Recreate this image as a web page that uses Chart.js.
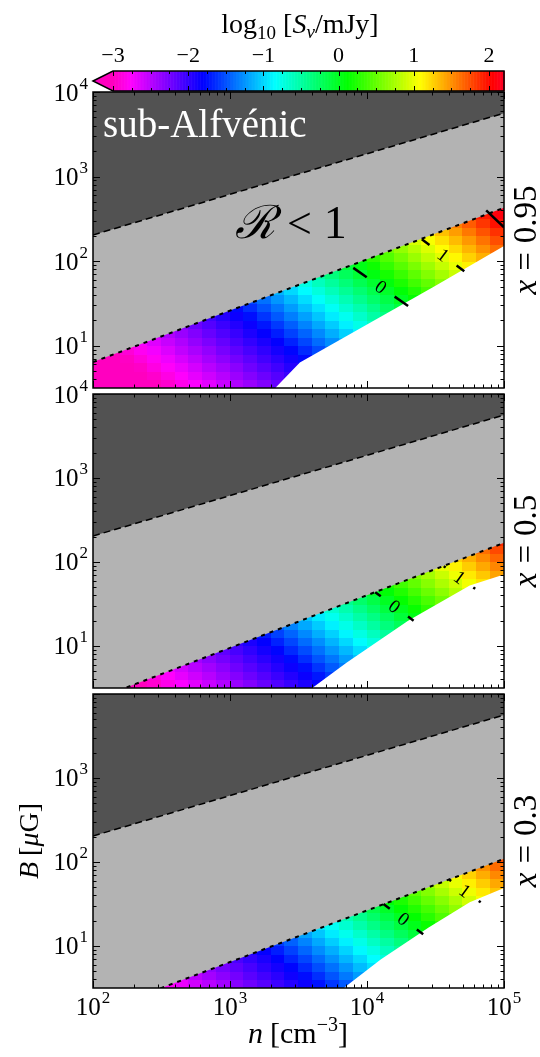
<!DOCTYPE html>
<html>
<head>
<meta charset="utf-8">
<script src="https://cdn.jsdelivr.net/npm/chart.js@4.4.1/dist/chart.umd.min.js"></script>
<style>
  html, body { margin: 0; padding: 0; background: #fff; }
  #wrap { position: relative; width: 540px; height: 1057px; }
  canvas { position: absolute; left: 0; top: 0; }
</style>
</head>
<body>
<div id="wrap">
  <canvas id="cbar" width="540" height="1057"></canvas>
  <canvas id="p0" width="540" height="1057"></canvas>
  <canvas id="p1" width="540" height="1057"></canvas>
  <canvas id="p2" width="540" height="1057"></canvas>
</div>
<script>
const _ = null;

// emission map cells: edges in n [cm^-3] and B [uG], 0.1 dex steps
const N_EDGES = [100, 125.9, 158.5, 199.5, 251.2, 316.2, 398.1, 501.2, 631.0, 794.3,
                 1000, 1259, 1585, 1995, 2512, 3162, 3981, 5012, 6310, 7943,
                 10000, 12589, 15849, 19953, 25119, 31623, 39811, 50119, 63096, 79433, 100000];
const B_EDGES = [3.162, 3.981, 5.012, 6.310, 7.943, 10.00, 12.59, 15.85, 19.95, 25.12,
                 31.62, 39.81, 50.12, 63.10, 79.43, 100.0, 125.9, 158.5, 199.5, 251.2,
                 316.2, 398.1, 501.2];

// log10(S_nu / mJy); one array per n column (n = 10^2.05 ... 10^4.95), B rows upward
const LOGS_X095 = [
  [-3.40, -3.32, -3.25, -3.17],
  [-3.31, -3.23, -3.15, -3.08, -3.00],
  [-3.22, -3.14, -3.06, -2.98, -2.91],
  [-3.12, -3.05, -2.97, -2.89, -2.81, -2.74],
  [-3.03, -2.95, -2.87, -2.80, -2.72, -2.64, -2.56],
  [-2.94, -2.86, -2.78, -2.70, -2.63, -2.55, -2.47],
  [-2.84, -2.77, -2.69, -2.61, -2.53, -2.46, -2.38, -2.30],
  [-2.75, -2.67, -2.60, -2.52, -2.44, -2.36, -2.29, -2.21],
  [-2.66, -2.58, -2.50, -2.42, -2.35, -2.27, -2.19, -2.12, -2.04],
  [-2.56, -2.49, -2.41, -2.33, -2.25, -2.18, -2.10, -2.02, -1.94, -1.87],
  [-2.47, -2.39, -2.32, -2.24, -2.16, -2.08, -2.01, -1.93, -1.85, -1.77],
  [-2.38, -2.30, -2.22, -2.15, -2.07, -1.99, -1.91, -1.84, -1.75, -1.63, -1.52],
  [-2.29, -2.21, -2.13, -2.05, -1.98, -1.90, -1.82, -1.72, -1.61, -1.49, -1.38],
  [-2.19, -2.12, -2.04, -1.96, -1.88, -1.81, -1.70, -1.59, -1.47, -1.36, -1.24, -1.13],
  [-2.10, -2.02, -1.94, -1.87, -1.79, -1.68, -1.56, -1.45, -1.33, -1.22, -1.11, -0.99, -0.88],
  [_, -1.93, -1.85, -1.77, -1.65, -1.54, -1.43, -1.31, -1.20, -1.08, -0.97, -0.86, -0.74],
  [_, _, -1.75, -1.63, -1.52, -1.40, -1.29, -1.17, -1.06, -0.95, -0.83, -0.72, -0.60, -0.49],
  [_, _, _, -1.49, -1.38, -1.27, -1.15, -1.04, -0.92, -0.81, -0.70, -0.58, -0.47, -0.35],
  [_, _, _, _, _, -1.13, -1.02, -0.90, -0.79, -0.67, -0.56, -0.44, -0.33, -0.22, -0.10],
  [_, _, _, _, _, _, -0.88, -0.76, -0.65, -0.54, -0.42, -0.31, -0.19, -0.08, 0.04, 0.15],
  [_, _, _, _, _, _, _, -0.63, -0.51, -0.40, -0.28, -0.17, -0.06, 0.06, 0.17, 0.29],
  [_, _, _, _, _, _, _, _, -0.38, -0.26, -0.15, -0.03, 0.08, 0.20, 0.31, 0.42, 0.54],
  [_, _, _, _, _, _, _, _, _, -0.12, -0.01, 0.10, 0.22, 0.33, 0.45, 0.56, 0.68, 0.79],
  [_, _, _, _, _, _, _, _, _, _, 0.13, 0.24, 0.36, 0.47, 0.58, 0.70, 0.81, 0.93],
  [_, _, _, _, _, _, _, _, _, _, _, 0.38, 0.49, 0.61, 0.72, 0.84, 0.95, 1.06, 1.18],
  [_, _, _, _, _, _, _, _, _, _, _, _, 0.63, 0.74, 0.86, 0.97, 1.09, 1.20, 1.32],
  [_, _, _, _, _, _, _, _, _, _, _, _, _, 0.88, 1.00, 1.11, 1.22, 1.34, 1.45, 1.57],
  [_, _, _, _, _, _, _, _, _, _, _, _, _, _, 1.13, 1.25, 1.36, 1.47, 1.59, 1.70, 1.82],
  [_, _, _, _, _, _, _, _, _, _, _, _, _, _, 1.27, 1.38, 1.50, 1.61, 1.73, 1.84, 1.95],
  [_, _, _, _, _, _, _, _, _, _, _, _, _, _, _, 1.52, 1.63, 1.75, 1.86, 1.98, 2.09, 2.21]
];
const LOGS_X05 = [
  [],
  [],
  [-3.12],
  [-3.03, -2.95],
  [-2.94, -2.86],
  [-2.84, -2.77, -2.69],
  [-2.75, -2.67, -2.60],
  [-2.66, -2.58, -2.50, -2.42],
  [-2.56, -2.49, -2.41, -2.33, -2.25],
  [-2.47, -2.39, -2.32, -2.24, -2.16],
  [-2.38, -2.30, -2.22, -2.15, -2.07, -1.99],
  [-2.29, -2.21, -2.13, -2.05, -1.98, -1.90, -1.82],
  [-2.19, -2.12, -2.04, -1.96, -1.88, -1.81, -1.70],
  [-2.10, -2.02, -1.94, -1.87, -1.79, -1.68, -1.56, -1.45],
  [-2.01, -1.93, -1.85, -1.77, -1.65, -1.54, -1.43, -1.31],
  [-1.91, -1.84, -1.75, -1.63, -1.52, -1.40, -1.29, -1.17, -1.06],
  [-1.82, -1.72, -1.61, -1.49, -1.38, -1.27, -1.15, -1.04, -0.92, -0.81],
  [_, -1.59, -1.47, -1.36, -1.24, -1.13, -1.02, -0.90, -0.79, -0.67],
  [_, _, -1.34, -1.22, -1.11, -0.99, -0.88, -0.76, -0.65, -0.54, -0.42],
  [_, _, _, -1.08, -0.97, -0.86, -0.74, -0.63, -0.51, -0.40, -0.28, -0.17],
  [_, _, _, _, -0.83, -0.72, -0.60, -0.49, -0.38, -0.26, -0.15, -0.03],
  [_, _, _, _, _, -0.58, -0.47, -0.35, -0.24, -0.12, -0.01, 0.10, 0.22],
  [_, _, _, _, _, _, -0.33, -0.22, -0.10, 0.01, 0.13, 0.24, 0.36],
  [_, _, _, _, _, _, _, -0.08, 0.04, 0.15, 0.26, 0.38, 0.49, 0.61],
  [_, _, _, _, _, _, _, _, 0.17, 0.29, 0.40, 0.52, 0.63, 0.74, 0.86],
  [_, _, _, _, _, _, _, _, _, 0.42, 0.54, 0.65, 0.77, 0.88, 1.00],
  [_, _, _, _, _, _, _, _, _, _, 0.68, 0.79, 0.90, 1.02, 1.13, 1.25],
  [_, _, _, _, _, _, _, _, _, _, _, 0.93, 1.04, 1.16, 1.27, 1.38, 1.50],
  [_, _, _, _, _, _, _, _, _, _, _, 1.06, 1.18, 1.29, 1.41, 1.52, 1.63],
  [_, _, _, _, _, _, _, _, _, _, _, _, 1.31, 1.43, 1.54, 1.66, 1.77, 1.89]
];
const LOGS_X03 = [
  [],
  [],
  [],
  [],
  [-2.87],
  [-2.78],
  [-2.69, -2.61],
  [-2.59, -2.51],
  [-2.50, -2.42, -2.34],
  [-2.41, -2.33, -2.25, -2.17],
  [-2.31, -2.24, -2.16, -2.08],
  [-2.22, -2.14, -2.07, -1.99, -1.91],
  [-2.13, -2.05, -1.97, -1.90, -1.82],
  [-2.03, -1.96, -1.88, -1.80, -1.70, -1.58],
  [-1.94, -1.86, -1.79, -1.67, -1.56, -1.44, -1.33],
  [-1.85, -1.76, -1.65, -1.54, -1.42, -1.31, -1.19],
  [-1.74, -1.63, -1.51, -1.40, -1.28, -1.17, -1.06, -0.94],
  [-1.60, -1.49, -1.38, -1.26, -1.15, -1.03, -0.92, -0.81, -0.69],
  [-1.47, -1.35, -1.24, -1.12, -1.01, -0.90, -0.78, -0.67, -0.55],
  [-1.33, -1.22, -1.10, -0.99, -0.87, -0.76, -0.65, -0.53, -0.42, -0.30],
  [_, -1.08, -0.97, -0.85, -0.74, -0.62, -0.51, -0.39, -0.28, -0.17],
  [_, _, _, -0.71, -0.60, -0.49, -0.37, -0.26, -0.14, -0.03, 0.09],
  [_, _, _, _, -0.46, -0.35, -0.23, -0.12, -0.01, 0.11, 0.22, 0.34],
  [_, _, _, _, _, -0.21, -0.10, 0.02, 0.13, 0.25, 0.36, 0.47],
  [_, _, _, _, _, _, 0.04, 0.15, 0.27, 0.38, 0.50, 0.61, 0.73],
  [_, _, _, _, _, _, _, 0.29, 0.41, 0.52, 0.63, 0.75, 0.86],
  [_, _, _, _, _, _, _, _, 0.54, 0.66, 0.77, 0.89, 1.00, 1.11],
  [_, _, _, _, _, _, _, _, _, 0.79, 0.91, 1.02, 1.14, 1.25, 1.37],
  [_, _, _, _, _, _, _, _, _, 0.93, 1.05, 1.16, 1.27, 1.39, 1.50],
  [_, _, _, _, _, _, _, _, _, _, 1.18, 1.30, 1.41, 1.53, 1.64, 1.75]
];

// region boundaries
const LINE_N = [100, 1000, 10000, 100000];
const ALFVEN_B = [204, 617, 1862, 5623];          // sub-Alfvenic above this
const RLIM_B_X095 = [6.4, 26.0, 105, 427];        // R < 1 above this
const RLIM_B_X05 = [2.26, 9.5, 40.2, 169];
const RLIM_B_X03 = [1.56, 6.44, 26.5, 109];
const EDGE_N_X095 = [2138, 3236, 10000, 31623, 100000];   // no emission below this
const EDGE_B_X095 = [3.16, 6.31, 17.8, 51.3, 151];
const EDGE_N_X05 = [3981, 7079, 19953, 56234, 100000];
const EDGE_B_X05 = [3.16, 6.31, 19.95, 52.5, 70.8];
const EDGE_N_X03 = [6761, 12589, 28184, 56234, 100000];
const EDGE_B_X03 = [3.16, 6.92, 16.6, 33.1, 49.0];

// flux contours (end points across the emission band)
const CONTOURS_X095 = [
  { label: '0', n: [7943, 19953], b: [83.2, 29.5] },
  { label: '1', n: [25119, 51286], b: [182, 75.9] },
  { label: '', n: [74131, 100000], b: [398, 251] }
];
const CONTOURS_X05 = [
  { label: '0', n: [11482, 21878], b: [43.7, 20.0] },
  { label: '1', n: [36308, 61660], b: [89.1, 47.9] }
];
const CONTOURS_X03 = [
  { label: '0', n: [13183, 25704], b: [31.6, 13.8] },
  { label: '1', n: [39811, 67608], b: [61.7, 33.1] }
];

const N_MAJOR = [100, 1000, 10000, 100000];
const B_MAJOR = [10, 100, 1000, 10000];
const CBAR_TICKS = [-3, -2, -1, 0, 1, 2];

const S_MIN = -3, S_MAX = 2.2;
const X_MIN = 100, X_MAX = 100000, Y_MIN = 3.162, Y_MAX = 10000;

// gist_rainbow reversed
const CMAP_STOPS = [
  [0.000, [255, 0, 191]],
  [0.046, [255, 0, 255]],
  [0.230, [0, 0, 255]],
  [0.414, [0, 255, 255]],
  [0.600, [0, 255, 0]],
  [0.785, [255, 255, 0]],
  [0.970, [255, 0, 0]],
  [1.000, [255, 0, 41]]
];

const SERIF = '"Liberation Serif", "DejaVu Serif", serif';
const roman = s => `${s}px ${SERIF}`;
const italic = s => `italic ${s}px ${SERIF}`;

function cmap(v) {
  let t = (v - S_MIN) / (S_MAX - S_MIN);
  if (t <= 0) return 'rgb(255,0,191)';
  if (t > 1) t = 1;
  for (let i = 1; i < CMAP_STOPS.length; i++) {
    const [t0, c0] = CMAP_STOPS[i - 1], [t1, c1] = CMAP_STOPS[i];
    if (t <= t1) {
      const f = (t - t0) / (t1 - t0);
      return 'rgb(' + c0.map((c, k) => Math.round(c + (c1[k] - c) * f)).join(',') + ')';
    }
  }
  return 'rgb(255,0,41)';
}

function richText(ctx, pieces, x, y, align, rotation) {
  ctx.save();
  ctx.translate(x, y);
  if (rotation) ctx.rotate(rotation);
  let total = 0;
  pieces.forEach(p => {
    ctx.font = p.font;
    p.w = ctx.measureText(p.text).width;
    total += p.w + (p.gap || 0);
  });
  let cx = align === 'center' ? -total / 2 : align === 'right' ? -total : 0;
  ctx.textAlign = 'left';
  ctx.textBaseline = 'alphabetic';
  pieces.forEach(p => {
    ctx.font = p.font;
    ctx.fillStyle = p.color || '#000';
    ctx.fillText(p.text, cx, p.dy || 0);
    cx += p.w + (p.gap || 0);
  });
  ctx.restore();
}

function powLabel(exp) {
  return [
    { text: '10', font: roman(25), gap: 1 },
    { text: String(exp), font: roman(17), dy: -12 }
  ];
}

function drawCells(chart, columns) {
  const { ctx, chartArea: a, scales: { x, y } } = chart;
  ctx.save();
  ctx.beginPath();
  ctx.rect(a.left, a.top, a.right - a.left, a.bottom - a.top);
  ctx.clip();
  columns.forEach((col, i) => {
    const x0 = Math.floor(x.getPixelForValue(N_EDGES[i]));
    const x1 = Math.ceil(x.getPixelForValue(N_EDGES[i + 1]));
    col.forEach((v, j) => {
      if (v === null) return;
      const y0 = Math.floor(y.getPixelForValue(B_EDGES[j + 1]));
      const y1 = Math.ceil(y.getPixelForValue(B_EDGES[j]));
      ctx.fillStyle = cmap(v);
      ctx.fillRect(x0, y0, x1 - x0, y1 - y0);
    });
  });
  ctx.restore();
}

function drawContour(chart, c) {
  const { ctx, chartArea: a, scales: { x, y } } = chart;
  const x0 = x.getPixelForValue(c.n[0]), y0 = y.getPixelForValue(c.b[0]);
  const x1 = x.getPixelForValue(c.n[1]), y1 = y.getPixelForValue(c.b[1]);
  const len = Math.hypot(x1 - x0, y1 - y0);
  const ux = (x1 - x0) / len, uy = (y1 - y0) / len;
  const mx = (x0 + x1) / 2, my = (y0 + y1) / 2;
  ctx.save();
  ctx.beginPath();
  ctx.rect(a.left, a.top, a.right - a.left, a.bottom - a.top);
  ctx.clip();
  ctx.strokeStyle = '#000';
  ctx.lineWidth = 2.5;
  ctx.beginPath();
  if (c.label) {
    const half = 17;
    ctx.moveTo(x0, y0); ctx.lineTo(mx - ux * half, my - uy * half);
    ctx.moveTo(mx + ux * half, my + uy * half); ctx.lineTo(x1, y1);
  } else {
    ctx.moveTo(x0, y0); ctx.lineTo(x1, y1);
  }
  ctx.stroke();
  if (c.label) {
    ctx.translate(mx, my);
    ctx.rotate(Math.atan2(y1 - y0, x1 - x0));
    ctx.font = roman(19);
    ctx.fillStyle = '#000';
    ctx.textAlign = 'center';
    ctx.textBaseline = 'middle';
    ctx.fillText(c.label, 0, 1);
  }
  ctx.restore();
}

function drawFrameAndTicks(chart, panel) {
  const { ctx, chartArea: a, scales: { x, y } } = chart;
  ctx.save();
  ctx.strokeStyle = '#000';
  ctx.lineWidth = 1;
  const seg = (px, py, dx, dy) => {
    ctx.beginPath(); ctx.moveTo(px, py); ctx.lineTo(px + dx, py + dy); ctx.stroke();
  };
  N_MAJOR.forEach(n => {
    const px = Math.round(x.getPixelForValue(n)) + 0.5;
    seg(px, a.bottom, 0, -7); seg(px, a.top, 0, 7);
    if (n < X_MAX) for (let k = 2; k <= 9; k++) {
      const qx = Math.round(x.getPixelForValue(n * k)) + 0.5;
      seg(qx, a.bottom, 0, -3.5); seg(qx, a.top, 0, 3.5);
    }
  });
  [1].concat(B_MAJOR).forEach(b => {
    if (b >= Y_MIN && b <= Y_MAX) {
      const py = Math.round(y.getPixelForValue(b)) + 0.5;
      seg(a.left, py, 7, 0); seg(a.right, py, -7, 0);
    }
    if (b < Y_MAX) for (let k = 2; k <= 9; k++) {
      const v = b * k;
      if (v < Y_MIN) continue;
      const qy = Math.round(y.getPixelForValue(v)) + 0.5;
      seg(a.left, qy, 3.5, 0); seg(a.right, qy, -3.5, 0);
    }
  });
  ctx.lineWidth = 1.5;
  ctx.strokeRect(a.left, a.top, a.right - a.left, a.bottom - a.top);
  ctx.restore();

  // tick labels
  B_MAJOR.forEach((b, i) => {
    if (b === 10000 && !panel.topLabel) return;
    const py = y.getPixelForValue(b);
    richText(ctx, powLabel(i + 1), a.left - 5, py + 8.5, 'right');
  });
  if (panel.xLabels) {
    N_MAJOR.forEach((n, i) => {
      richText(ctx, powLabel(i + 2), x.getPixelForValue(n), a.bottom + 27, 'center');
    });
  }
}

function drawPanelText(chart, panel) {
  const { ctx, chartArea: a } = chart;
  const midY = (a.top + a.bottom) / 2;
  richText(ctx, [
    { text: 'x', font: italic(33), gap: 9 },
    { text: '=', font: roman(33), gap: 9 },
    { text: panel.label, font: roman(33) }
  ], a.right + 32, midY, 'center', -Math.PI / 2);
  if (panel.notes) {
    richText(ctx, [{ text: 'sub-Alfvénic', font: roman(39), color: '#fff' }], a.left + 10, a.top + 45, 'left');
    richText(ctx, [
      { text: 'ℛ', font: italic(46), gap: 12 },
      { text: '<', font: roman(44), gap: 12 },
      { text: '1', font: roman(46) }
    ], a.left + 142, a.top + 146, 'left');
  }
  if (panel.xLabels) {
    richText(ctx, [
      { text: 'n', font: italic(30), gap: 7 },
      { text: '[cm', font: roman(30) },
      { text: '−3', font: roman(20), dy: -12 },
      { text: ']', font: roman(30) }
    ], 298, a.bottom + 55, 'center');
    richText(ctx, [
      { text: 'B', font: italic(28), gap: 6 },
      { text: '[', font: roman(28) },
      { text: 'μ', font: italic(28) },
      { text: 'G]', font: roman(28) }
    ], 38, 841, 'center', -Math.PI / 2);
  }
}

const toXY = (ns, bs) => ns.map((n, i) => ({ x: n, y: bs[i] }));

const PANELS = [
  { id: 'p0', top: 92, bottom: 388, grid: LOGS_X095, rlim: RLIM_B_X095, edgeN: EDGE_N_X095, edgeB: EDGE_B_X095,
    contours: CONTOURS_X095, label: '0.95', topLabel: true, xLabels: false, notes: true },
  { id: 'p1', top: 394, bottom: 688, grid: LOGS_X05, rlim: RLIM_B_X05, edgeN: EDGE_N_X05, edgeB: EDGE_B_X05,
    contours: CONTOURS_X05, label: '0.5', topLabel: true, xLabels: false, notes: false },
  { id: 'p2', top: 694, bottom: 988, grid: LOGS_X03, rlim: RLIM_B_X03, edgeN: EDGE_N_X03, edgeB: EDGE_B_X03,
    contours: CONTOURS_X03, label: '0.3', topLabel: false, xLabels: true, notes: false }
];

Chart.defaults.font.family = SERIF;

PANELS.forEach(panel => {
  new Chart(document.getElementById(panel.id), {
    type: 'line',
    data: {
      datasets: [
        {
          label: 'sub-Alfvenic',
          data: toXY(LINE_N, ALFVEN_B),
          borderColor: '#000', borderWidth: 1.5, borderDash: [7, 4],
          backgroundColor: '#525252', fill: 'end', order: 2
        },
        {
          label: 'R < 1',
          data: toXY(LINE_N, panel.rlim),
          borderColor: '#000', borderWidth: 2, borderDash: [4, 5],
          backgroundColor: '#b3b3b3', fill: 'end', order: 3
        },
        {
          label: 'no emission',
          data: toXY(panel.edgeN, panel.edgeB),
          borderColor: 'rgba(0,0,0,0)', borderWidth: 0,
          backgroundColor: '#ffffff', fill: 'start', order: 3
        }
      ]
    },
    options: {
      responsive: false,
      animation: false,
      events: [],
      layout: { padding: { left: 93, right: 36, top: panel.top, bottom: 1057 - panel.bottom } },
      elements: { point: { radius: 0 }, line: { tension: 0 } },
      scales: {
        x: { type: 'logarithmic', min: X_MIN, max: X_MAX, display: false },
        y: { type: 'logarithmic', min: Y_MIN, max: Y_MAX, display: false }
      },
      plugins: { legend: { display: false }, tooltip: { enabled: false } }
    },
    plugins: [{
      id: 'panelDecor',
      beforeDatasetsDraw(chart) { drawCells(chart, panel.grid); },
      afterDatasetsDraw(chart) {
        panel.contours.forEach(c => drawContour(chart, c));
        drawFrameAndTicks(chart, panel);
        drawPanelText(chart, panel);
      }
    }]
  });
});

// colour bar
new Chart(document.getElementById('cbar'), {
  type: 'line',
  data: { datasets: [] },
  options: {
    responsive: false,
    animation: false,
    events: [],
    layout: { padding: { left: 113, right: 36, top: 71, bottom: 1057 - 91 } },
    scales: {
      x: { type: 'linear', min: S_MIN, max: S_MAX, display: false },
      y: { type: 'linear', min: 0, max: 1, display: false }
    },
    plugins: { legend: { display: false }, tooltip: { enabled: false } }
  },
  plugins: [{
    id: 'colorbar',
    afterDraw(chart) {
      const { ctx, chartArea: a, scales: { x } } = chart;
      const h = a.bottom - a.top;
      ctx.save();
      for (let v = S_MIN; v < S_MAX; v += 0.01) {
        const x0 = x.getPixelForValue(v), x1 = x.getPixelForValue(Math.min(v + 0.01, S_MAX));
        ctx.fillStyle = cmap(v + 0.005);
        ctx.fillRect(x0, a.top, x1 - x0 + 0.6, h);
      }
      // extension triangle for values below the range
      const tip = a.left - 20;
      ctx.fillStyle = cmap(S_MIN - 1);
      ctx.beginPath();
      ctx.moveTo(a.left + 0.5, a.top); ctx.lineTo(tip, (a.top + a.bottom) / 2); ctx.lineTo(a.left + 0.5, a.bottom);
      ctx.closePath(); ctx.fill();
      // ticks every 0.25
      ctx.strokeStyle = '#000'; ctx.lineWidth = 1;
      for (let k = 0; k * 0.25 <= S_MAX - S_MIN + 1e-9; k++) {
        const v = S_MIN + k * 0.25;
        const px = Math.round(x.getPixelForValue(v)) + 0.5;
        const len = k % 4 === 0 ? 5 : 3;
        ctx.beginPath(); ctx.moveTo(px, a.top); ctx.lineTo(px, a.top + len); ctx.stroke();
        ctx.beginPath(); ctx.moveTo(px, a.bottom); ctx.lineTo(px, a.bottom - len); ctx.stroke();
      }
      // outline
      ctx.lineWidth = 1.5;
      ctx.beginPath();
      ctx.moveTo(tip, (a.top + a.bottom) / 2);
      ctx.lineTo(a.left, a.top); ctx.lineTo(a.right, a.top); ctx.lineTo(a.right, a.bottom);
      ctx.lineTo(a.left, a.bottom); ctx.closePath(); ctx.stroke();
      ctx.restore();
      // tick labels
      CBAR_TICKS.forEach(t => {
        richText(ctx, [{ text: t < 0 ? '−' + Math.abs(t) : String(t), font: roman(22) }],
          x.getPixelForValue(t), a.top - 9, 'center');
      });
      // title
      richText(ctx, [
        { text: 'log', font: roman(28) },
        { text: '10', font: roman(19), dy: 6, gap: 7 },
        { text: '[', font: roman(28) },
        { text: 'S', font: italic(28) },
        { text: 'ν', font: italic(19), dy: 5 },
        { text: '/mJy]', font: roman(28) }
      ], 300, 33, 'center');
    }
  }]
});
</script>
</body>
</html>
